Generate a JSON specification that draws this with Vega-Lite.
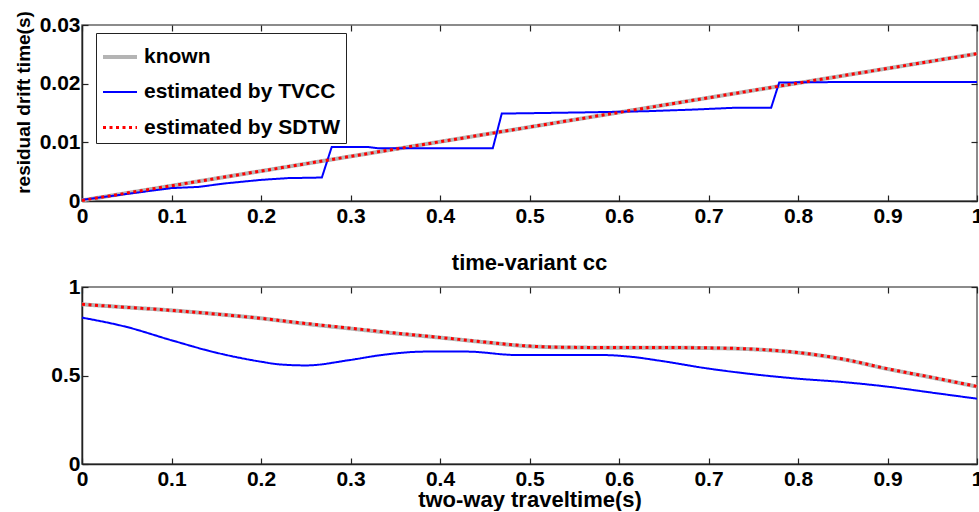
{
  "$schema": "https://vega.github.io/schema/vega-lite/v6.json",
  "padding": {"left": 13, "top": 9, "right": 0, "bottom": 0},
  "background": "white",
  "spacing": 86,
  "bounds": "flush",
  "config": {
    "font": "Liberation Sans",
    "view": {"stroke": "#666", "strokeWidth": 1.5},
    "axis": {
      "labelFont": "Liberation Sans", "labelFontWeight": "bold", "labelFontSize": 21, "labelColor": "black",
      "titleFont": "Liberation Sans", "titleFontWeight": "bold", "titleFontSize": 22, "titleColor": "black",
      "domainColor": "#222", "domainWidth": 1.5, "tickColor": "#222", "tickWidth": 1.2, "tickSize": -6,
      "grid": false, "labelOverlap": false, "labelFlush": false, "labelBound": false
    },
    "legend": {
      "labelFont": "Liberation Sans", "labelFontWeight": "bold", "labelFontSize": 21, "labelColor": "black"
    },
    "title": {"font": "Liberation Sans", "fontWeight": "bold", "fontSize": 22, "color": "black"}
  },
  "datasets": {
    "top": [
      {"x": 0, "y": 0.0001, "series": "known"},
      {"x": 1, "y": 0.0251, "series": "known"},
      {"x": 0, "y": 0.0002, "series": "estimated by TVCC"},
      {"x": 0.05, "y": 0.0012, "series": "estimated by TVCC"},
      {"x": 0.1, "y": 0.0022, "series": "estimated by TVCC"},
      {"x": 0.13, "y": 0.0024, "series": "estimated by TVCC"},
      {"x": 0.16, "y": 0.003, "series": "estimated by TVCC"},
      {"x": 0.2, "y": 0.0036, "series": "estimated by TVCC"},
      {"x": 0.23, "y": 0.0039, "series": "estimated by TVCC"},
      {"x": 0.268, "y": 0.004, "series": "estimated by TVCC"},
      {"x": 0.279, "y": 0.0092, "series": "estimated by TVCC"},
      {"x": 0.32, "y": 0.0092, "series": "estimated by TVCC"},
      {"x": 0.33, "y": 0.009, "series": "estimated by TVCC"},
      {"x": 0.459, "y": 0.009, "series": "estimated by TVCC"},
      {"x": 0.469, "y": 0.0149, "series": "estimated by TVCC"},
      {"x": 0.56, "y": 0.0151, "series": "estimated by TVCC"},
      {"x": 0.63, "y": 0.0153, "series": "estimated by TVCC"},
      {"x": 0.686, "y": 0.0156, "series": "estimated by TVCC"},
      {"x": 0.73, "y": 0.0159, "series": "estimated by TVCC"},
      {"x": 0.77, "y": 0.0159, "series": "estimated by TVCC"},
      {"x": 0.779, "y": 0.0202, "series": "estimated by TVCC"},
      {"x": 0.865, "y": 0.0203, "series": "estimated by TVCC"},
      {"x": 1, "y": 0.0203, "series": "estimated by TVCC"},
      {"x": 0, "y": 0.0001, "series": "estimated by SDTW"},
      {"x": 1, "y": 0.0251, "series": "estimated by SDTW"}
    ],
    "bottom": [
      {"x": 0, "y": 0.902, "series": "known"},
      {"x": 0.05, "y": 0.885, "series": "known"},
      {"x": 0.1, "y": 0.868, "series": "known"},
      {"x": 0.15, "y": 0.847, "series": "known"},
      {"x": 0.2, "y": 0.823, "series": "known"},
      {"x": 0.25, "y": 0.792, "series": "known"},
      {"x": 0.3, "y": 0.765, "series": "known"},
      {"x": 0.35, "y": 0.738, "series": "known"},
      {"x": 0.4, "y": 0.714, "series": "known"},
      {"x": 0.45, "y": 0.688, "series": "known"},
      {"x": 0.5, "y": 0.665, "series": "known"},
      {"x": 0.55, "y": 0.658, "series": "known"},
      {"x": 0.6, "y": 0.657, "series": "known"},
      {"x": 0.65, "y": 0.657, "series": "known"},
      {"x": 0.7, "y": 0.655, "series": "known"},
      {"x": 0.75, "y": 0.648, "series": "known"},
      {"x": 0.8, "y": 0.629, "series": "known"},
      {"x": 0.85, "y": 0.592, "series": "known"},
      {"x": 0.9, "y": 0.537, "series": "known"},
      {"x": 0.95, "y": 0.488, "series": "known"},
      {"x": 1, "y": 0.437, "series": "known"},
      {"x": 0, "y": 0.827, "series": "estimated by TVCC"},
      {"x": 0.05, "y": 0.774, "series": "estimated by TVCC"},
      {"x": 0.1, "y": 0.699, "series": "estimated by TVCC"},
      {"x": 0.15, "y": 0.629, "series": "estimated by TVCC"},
      {"x": 0.2, "y": 0.578, "series": "estimated by TVCC"},
      {"x": 0.22, "y": 0.563, "series": "estimated by TVCC"},
      {"x": 0.25, "y": 0.557, "series": "estimated by TVCC"},
      {"x": 0.3, "y": 0.588, "series": "estimated by TVCC"},
      {"x": 0.335, "y": 0.616, "series": "estimated by TVCC"},
      {"x": 0.384, "y": 0.635, "series": "estimated by TVCC"},
      {"x": 0.43, "y": 0.635, "series": "estimated by TVCC"},
      {"x": 0.485, "y": 0.616, "series": "estimated by TVCC"},
      {"x": 0.578, "y": 0.616, "series": "estimated by TVCC"},
      {"x": 0.615, "y": 0.605, "series": "estimated by TVCC"},
      {"x": 0.645, "y": 0.584, "series": "estimated by TVCC"},
      {"x": 0.7, "y": 0.539, "series": "estimated by TVCC"},
      {"x": 0.75, "y": 0.507, "series": "estimated by TVCC"},
      {"x": 0.8, "y": 0.482, "series": "estimated by TVCC"},
      {"x": 0.85, "y": 0.463, "series": "estimated by TVCC"},
      {"x": 0.9, "y": 0.437, "series": "estimated by TVCC"},
      {"x": 0.95, "y": 0.403, "series": "estimated by TVCC"},
      {"x": 1, "y": 0.369, "series": "estimated by TVCC"},
      {"x": 0, "y": 0.902, "series": "estimated by SDTW"},
      {"x": 0.05, "y": 0.885, "series": "estimated by SDTW"},
      {"x": 0.1, "y": 0.868, "series": "estimated by SDTW"},
      {"x": 0.15, "y": 0.847, "series": "estimated by SDTW"},
      {"x": 0.2, "y": 0.823, "series": "estimated by SDTW"},
      {"x": 0.25, "y": 0.794, "series": "estimated by SDTW"},
      {"x": 0.3, "y": 0.767, "series": "estimated by SDTW"},
      {"x": 0.35, "y": 0.740, "series": "estimated by SDTW"},
      {"x": 0.4, "y": 0.715, "series": "estimated by SDTW"},
      {"x": 0.45, "y": 0.689, "series": "estimated by SDTW"},
      {"x": 0.5, "y": 0.666, "series": "estimated by SDTW"},
      {"x": 0.55, "y": 0.659, "series": "estimated by SDTW"},
      {"x": 0.6, "y": 0.658, "series": "estimated by SDTW"},
      {"x": 0.65, "y": 0.658, "series": "estimated by SDTW"},
      {"x": 0.7, "y": 0.656, "series": "estimated by SDTW"},
      {"x": 0.75, "y": 0.649, "series": "estimated by SDTW"},
      {"x": 0.8, "y": 0.630, "series": "estimated by SDTW"},
      {"x": 0.85, "y": 0.593, "series": "estimated by SDTW"},
      {"x": 0.9, "y": 0.538, "series": "estimated by SDTW"},
      {"x": 0.95, "y": 0.489, "series": "estimated by SDTW"},
      {"x": 1, "y": 0.438, "series": "estimated by SDTW"}
    ]
  },
  "vconcat": [
    {
      "width": 895,
      "height": 176,
      "data": {"name": "top"},
      "layer": [
        {
          "mark": {"type": "line", "strokeCap": "butt"},
          "encoding": {
            "x": {"field": "x", "type": "quantitative", "scale": {"domain": [0, 1], "nice": false},
                  "axis": {"orient": "bottom", "values": [0, 0.1, 0.2, 0.3, 0.4, 0.5, 0.6, 0.7, 0.8, 0.9, 1], "format": "~g", "title": null, "labelPadding": 10}},
            "y": {"field": "y", "type": "quantitative", "scale": {"domain": [0, 0.03], "nice": false},
                  "axis": {"orient": "left", "values": [0, 0.01, 0.02, 0.03], "format": "~g", "title": "residual drift time(s)", "titleFontSize": 19, "titleY": 77, "labelPadding": 8, "titlePadding": 6}},
            "color": {"field": "series", "type": "nominal",
                      "scale": {"domain": ["known", "estimated by TVCC", "estimated by SDTW"], "range": ["#b4b4b4", "#0000ff", "#ff0000"]},
                      "legend": {"title": null, "orient": "none", "legendX": 14, "legendY": 8, "symbolType": "stroke", "symbolSize": 1156, "rowPadding": 7, "padding": 5, "strokeColor": "#222", "fillColor": "white", "labelOffset": 5, "labelLimit": 300}},
            "strokeDash": {"field": "series", "type": "nominal",
                      "scale": {"domain": ["known", "estimated by TVCC", "estimated by SDTW"], "range": [[1, 0], [1, 0], [3, 3.5]]},
                      "legend": {"title": null, "orient": "none", "legendX": 14, "legendY": 8, "symbolType": "stroke", "symbolSize": 1156, "rowPadding": 7, "padding": 5, "strokeColor": "#222", "fillColor": "white", "labelOffset": 5, "labelLimit": 300}},
            "strokeWidth": {"field": "series", "type": "nominal",
                      "scale": {"type": "ordinal", "domain": ["known", "estimated by TVCC", "estimated by SDTW"], "range": [4, 2, 3]},
                      "legend": {"title": null, "orient": "none", "legendX": 14, "legendY": 8, "symbolType": "stroke", "symbolSize": 1156, "rowPadding": 7, "padding": 5, "strokeColor": "#222", "fillColor": "white", "labelOffset": 5, "labelLimit": 300}}
          }
        },
        {
          "mark": {"type": "line", "opacity": 0},
          "encoding": {
            "x": {"field": "x", "type": "quantitative", "axis": {"orient": "top", "values": [0, 0.1, 0.2, 0.3, 0.4, 0.5, 0.6, 0.7, 0.8, 0.9, 1], "labels": false, "title": null, "domain": false}},
            "y": {"field": "y", "type": "quantitative", "axis": {"orient": "right", "values": [0, 0.01, 0.02, 0.03], "labels": false, "title": null, "domain": false}}
          }
        }
      ],
      "resolve": {"axis": {"x": "independent", "y": "independent"}}
    },
    {
      "width": 895,
      "height": 177,
      "data": {"name": "bottom"},
      "title": {"text": "time-variant cc", "offset": 1},
      "layer": [
        {
          "mark": {"type": "line", "strokeCap": "butt", "interpolate": "monotone"},
          "encoding": {
            "x": {"field": "x", "type": "quantitative", "scale": {"domain": [0, 1], "nice": false},
                  "axis": {"orient": "bottom", "values": [0, 0.1, 0.2, 0.3, 0.4, 0.5, 0.6, 0.7, 0.8, 0.9, 1], "format": "~g", "title": "two-way traveltime(s)", "labelPadding": 10, "titlePadding": 0}},
            "y": {"field": "y", "type": "quantitative", "scale": {"domain": [0, 1], "nice": false},
                  "axis": {"orient": "left", "values": [0, 0.5, 1], "format": "~g", "title": null, "labelPadding": 8}},
            "color": {"field": "series", "type": "nominal",
                      "scale": {"domain": ["known", "estimated by TVCC", "estimated by SDTW"], "range": ["#b4b4b4", "#0000ff", "#ff0000"]}, "legend": null},
            "strokeDash": {"field": "series", "type": "nominal",
                      "scale": {"domain": ["known", "estimated by TVCC", "estimated by SDTW"], "range": [[1, 0], [1, 0], [3, 3.5]]}, "legend": null},
            "strokeWidth": {"field": "series", "type": "nominal",
                      "scale": {"type": "ordinal", "domain": ["known", "estimated by TVCC", "estimated by SDTW"], "range": [4, 2, 3]}, "legend": null}
          }
        },
        {
          "mark": {"type": "line", "opacity": 0},
          "encoding": {
            "x": {"field": "x", "type": "quantitative", "axis": {"orient": "top", "values": [0, 0.1, 0.2, 0.3, 0.4, 0.5, 0.6, 0.7, 0.8, 0.9, 1], "labels": false, "title": null, "domain": false}},
            "y": {"field": "y", "type": "quantitative", "axis": {"orient": "right", "values": [0, 0.5, 1], "labels": false, "title": null, "domain": false}}
          }
        }
      ],
      "resolve": {"axis": {"x": "independent", "y": "independent"}}
    }
  ]
}
